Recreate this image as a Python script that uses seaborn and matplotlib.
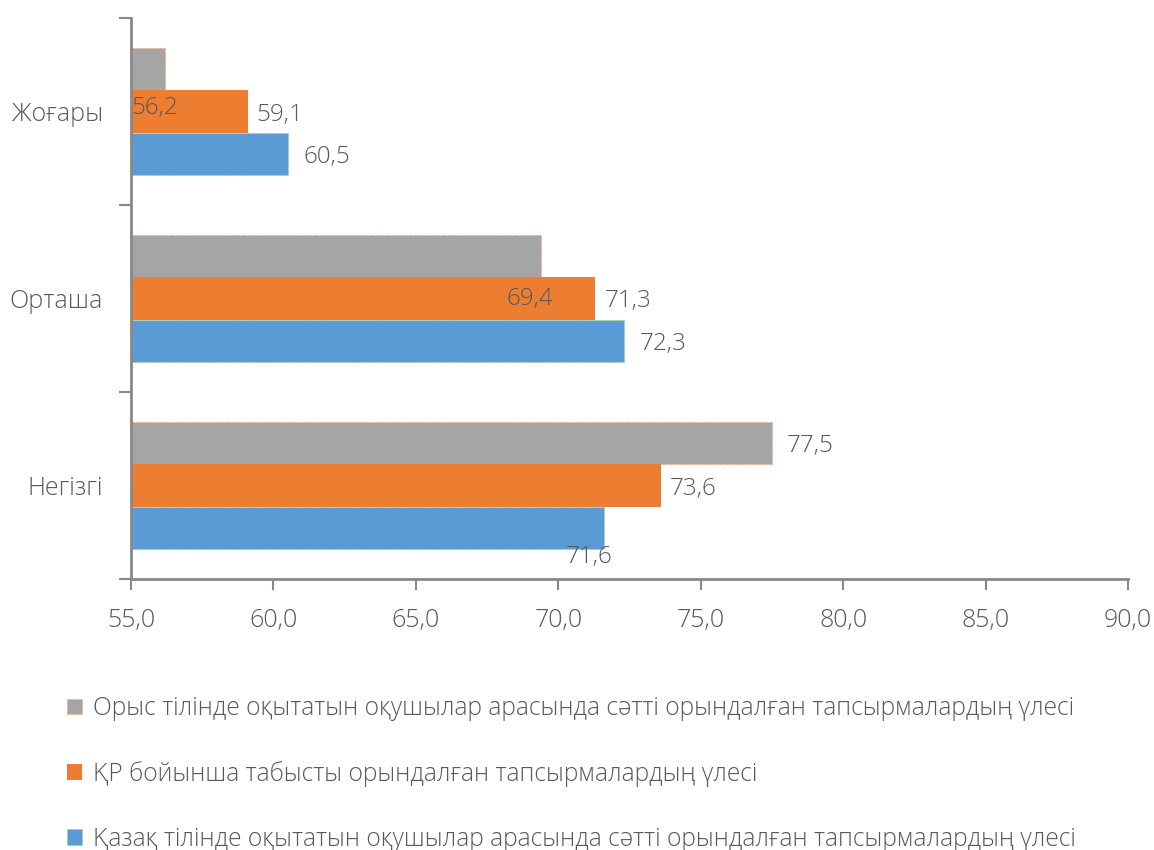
import numpy as np
import pandas as pd
import matplotlib.pyplot as plt
import seaborn as sns
from matplotlib.patches import Patch
from matplotlib.ticker import FuncFormatter, FixedLocator

# data
categories = ['Жоғары', 'Орташа', 'Негізгі']
series = ['Орыс тілінде оқытатын оқушылар арасында сәтті орындалған тапсырмалардың үлесі',
          'ҚР бойынша табысты орындалған тапсырмалардың үлесі',
          'Қазақ тілінде оқытатын оқушылар арасында сәтті орындалған тапсырмалардың үлесі']
russian = [56.2, 69.4, 77.5]
republic = [59.1, 71.3, 73.6]
kazakh = [60.5, 72.3, 71.6]

colors = ['#A5A5A5', '#ED7D31', '#5B9BD5']
edges = ['#F4B183', 'none', '#A9D18E']
txt = '#595959'

df = pd.DataFrame({
    'cat': categories * 3,
    'series': [series[0]] * 3 + [series[1]] * 3 + [series[2]] * 3,
    'val': russian + republic + kazakh,
})

sns.set_style('white')
plt.rcParams['font.family'] = ['Open Sans', 'DejaVu Sans']
plt.rcParams['font.weight'] = 'light'

fig = plt.figure(figsize=(11.54, 8.5), dpi=100)
ax = fig.add_axes([131 / 1154, 1 - 579 / 850, (1128 - 131) / 1154, (579 - 18) / 850])

sns.barplot(data=df, y='cat', x='val', hue='series', hue_order=series,
            order=categories, palette=colors, orient='h', width=0.675,
            gap=0, ax=ax, legend=False, saturation=1)

for cont, ec in zip(ax.containers, edges):
    for bar in cont:
        bar.set_edgecolor(ec)
        bar.set_linestyle((0, (3, 2)))
        bar.set_linewidth(0.8)

# data labels (a few are nudged like in the original)
default_dx = [15, 9, 16]
nudges = {(0, 0): (-34, 39, 'left'), (0, 1): (-35, 43, 'left'), (2, 2): (9, 29, 'right')}
for si, cont in enumerate(ax.containers):
    for ci, bar in enumerate(cont):
        v = bar.get_width()
        yc = bar.get_y() + bar.get_height() / 2
        dx, dy, ha = nudges.get((si, ci), (default_dx[si], 3, 'left'))
        ax.annotate(f'{v:.1f}'.replace('.', ','), (v, yc), xytext=(dx, -dy),
                    textcoords='offset pixels', ha=ha, va='center',
                    fontsize=17.5, color=txt, annotation_clip=False)

ax.set_xlim(55, 90)
ax.set_ylim(2.5, -0.5)
ax.set_xticks(np.arange(55, 91, 5))
ax.xaxis.set_major_formatter(FuncFormatter(lambda v, p: f'{v:.1f}'.replace('.', ',')))
ax.yaxis.set_minor_locator(FixedLocator([-0.5, 0.5, 1.5, 2.5]))
ax.tick_params(axis='y', which='major', length=0, pad=20, labelsize=18, labelcolor=txt)
ax.tick_params(axis='y', which='minor', length=9, width=1.5, color='#888888', left=True)
ax.tick_params(axis='x', length=8, width=1.5, color='#888888', pad=13,
               labelsize=18, labelcolor=txt, bottom=True)
ax.set_xlabel('')
ax.set_ylabel('')
for s in ['top', 'right']:
    ax.spines[s].set_visible(False)
for s in ['left', 'bottom']:
    ax.spines[s].set_color('#888888')
    ax.spines[s].set_linewidth(2)

handles = [Patch(facecolor=c, edgecolor=e, linestyle='--', linewidth=0.6) for c, e in zip(colors, edges)]
leg = fig.legend(handles, series, loc='upper left', bbox_to_anchor=(67 / 1154, 1 - 696 / 850),
                 frameon=False, fontsize=17.7, labelcolor=txt, handlelength=0.6,
                 handleheight=0.6, handletextpad=0.45, labelspacing=1.62, borderpad=0,
                 borderaxespad=0)

fig.savefig('out.png', dpi=100)
